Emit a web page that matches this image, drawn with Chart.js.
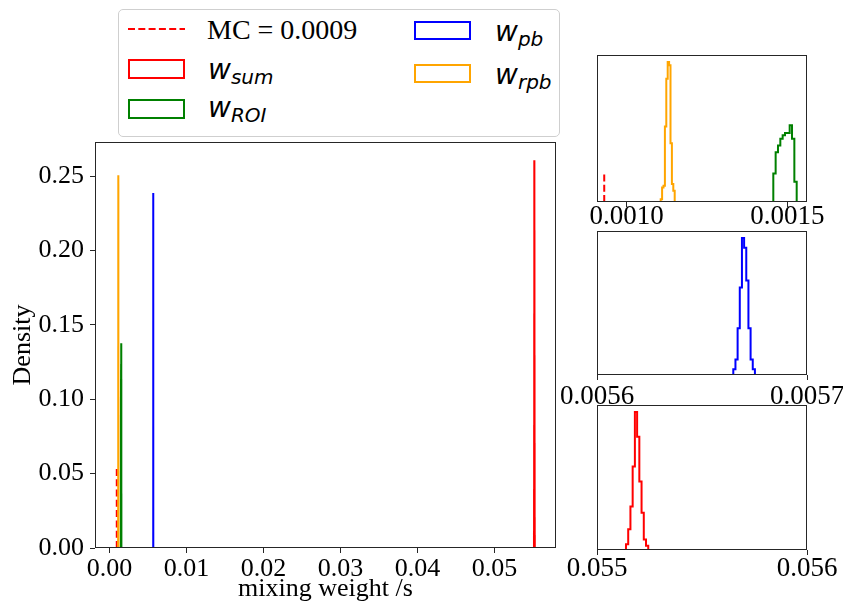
<!DOCTYPE html>
<html>
<head>
<meta charset="utf-8">
<title>mixing weight histograms</title>
<script src="https://cdn.jsdelivr.net/npm/chart.js@4.4.1/dist/chart.umd.min.js"></script>
<style>
  html, body { margin: 0; padding: 0; background: #fff; }
  #page { position: relative; width: 843px; height: 609px; overflow: hidden; }
  canvas { position: absolute; }
  #mainChart { left: 0; top: 130px; }
  #insetTop { left: 560px; top: 40px; }
  #insetMid { left: 560px; top: 216px; }
  #insetLow { left: 560px; top: 390px; }
  #legend { position: absolute; left: 118px; top: 9px; width: 442px; height: 128px; box-sizing: border-box;
            border: 1px solid #cfcfcf; border-radius: 5px; background: #fff; }
  .patch { position: absolute; width: 57px; height: 20px; box-sizing: border-box; border: 2px solid; }
  .lbl { position: absolute; font-size: 28px; line-height: 28px; white-space: nowrap; color: #000; }
  .serif { font-family: 'Liberation Serif', 'Times New Roman', serif; }
  .math { font-family: 'DejaVu Sans', sans-serif; font-style: italic; }
  .math sub { font-size: 20px; vertical-align: -5px; line-height: 0; }
</style>
</head>
<body>
<div id="page">
  <canvas id="mainChart" width="580" height="479"></canvas>
  <canvas id="insetTop" width="283" height="200"></canvas>
  <canvas id="insetMid" width="283" height="200"></canvas>
  <canvas id="insetLow" width="283" height="200"></canvas>
  <div id="legend">
    <svg style="position:absolute; left:9px; top:16px" width="57" height="6">
      <line x1="0" y1="3" x2="57" y2="3" stroke="#ff0000" stroke-width="2" stroke-dasharray="7 3.3"></line>
    </svg>
    <div class="lbl serif" style="left:88px; top:6px">MC = 0.0009</div>
    <div class="patch" style="left:9px; top:49px; border-color:#ff0000"></div>
    <div class="lbl math" style="left:89px; top:46px">w<sub>sum</sub></div>
    <div class="patch" style="left:9px; top:89px; border-color:#008000"></div>
    <div class="lbl math" style="left:89px; top:84px">w<sub>ROI</sub></div>
    <div class="patch" style="left:295px; top:11px; height:19px; border-color:#0000ff"></div>
    <div class="lbl math" style="left:376px; top:8px">w<sub>pb</sub></div>
    <div class="patch" style="left:295px; top:54px; height:19px; border-color:#ffa500"></div>
    <div class="lbl math" style="left:376px; top:51px">w<sub>rpb</sub></div>
  </div>
</div>
<script>
// values
const mcValue = 0.00093;
const mcLineFraction = 0.2;   // dashed marker reaches 20% of each axis height

const sumStart = 0.055138;
const sumBinWidth = 0.0000106;
const sumDensity = [0.011, 0.039, 0.082, 0.157, 0.260, 0.213, 0.129, 0.070, 0.020, 0.008];

const roiStart = 0.0014564;
const roiBinWidth = 0.00000728;
const roiDensity = [0.051, 0.089, 0.101, 0.113, 0.119, 0.123, 0.123, 0.137, 0.113, 0.036];

const pbStart = 0.0056649;
const pbBinWidth = 0.00000103;
const pbDensity = [0.010, 0.027, 0.081, 0.152, 0.238, 0.221, 0.164, 0.081, 0.027, 0.010];

const rpbStart = 0.0011058;
const rpbBinWidth = 0.00000436;
const rpbDensity = [0.005, 0.026, 0.029, 0.135, 0.220, 0.250, 0.244, 0.105, 0.032, 0.020];

const mainXRange = [-0.0019, 0.058];
const mainYMax = 0.273;
const mainXTicks = [0, 0.01, 0.02, 0.03, 0.04, 0.05];
const mainXTickLabels = ['0.00', '0.01', '0.02', '0.03', '0.04', '0.05'];
const mainYTicks = [0, 0.05, 0.10, 0.15, 0.20, 0.25];
const mainYTickLabels = ['0.00', '0.05', '0.10', '0.15', '0.20', '0.25'];

const topXRange = [0.0009075, 0.0015613];
const topYMax = 0.2625;
const topXTicks = [0.0010, 0.0015];
const topXTickLabels = ['0.0010', '0.0015'];

const midXRange = [0.0056, 0.0057];
const midYMax = 0.25;
const midXTicks = [0.0056, 0.0057];
const midXTickLabels = ['0.0056', '0.0057'];

const lowXRange = [0.055, 0.056];
const lowYMax = 0.273;
const lowXTicks = [0.055, 0.056];
const lowXTickLabels = ['0.055', '0.056'];

const serif = "'Liberation Serif', 'Times New Roman', serif";
const colors = { mc: '#ff0000', sum: '#ff0000', roi: '#008000', pb: '#0000ff', rpb: '#ffa500' };
const spineColor = '#262626';

// step outline like histtype='step'
function histPoints(start, width, density) {
    const pts = [{ x: start, y: 0 }];
    density.forEach((d, i) => pts.push({ x: start + (i + 1) * width, y: d }));
    pts.push({ x: start + density.length * width, y: 0 });
    return pts;
}

function histDataset(points, color) {
    return { data: points, borderColor: color, borderWidth: 2, stepped: 'after',
             pointRadius: 0, fill: false, tension: 0 };
}

function mcDataset(yMax) {
    return { data: [{ x: mcValue, y: 0 }, { x: mcValue, y: mcLineFraction * yMax }],
             borderColor: colors.mc, borderWidth: 2, borderDash: [7, 3.3],
             pointRadius: 0, fill: false };
}

const boxFrame = {
    id: 'boxFrame',
    afterDatasetsDraw(chart) {
        const { ctx, chartArea: a } = chart;
        ctx.save();
        ctx.strokeStyle = spineColor;
        ctx.lineWidth = 1;
        ctx.strokeRect(Math.round(a.left) + 0.5, Math.round(a.top) + 0.5,
                       Math.round(a.right - a.left) - 1, Math.round(a.bottom - a.top) - 1);
        ctx.restore();
    }
};

function xScale(range, ticks, labels, o) {
    return {
        type: 'linear', min: range[0], max: range[1],
        afterBuildTicks: s => { s.ticks = ticks.map(v => ({ value: v })); },
        afterFit: s => { s.height = o.height; s.paddingLeft = 0; s.paddingRight = 0; },
        ticks: { callback: (v, i) => labels[i], autoSkip: false, maxRotation: 0, minRotation: 0,
                 padding: o.pad, color: '#000', font: { family: serif, size: o.size, lineHeight: o.lh } },
        grid: { drawOnChartArea: false, drawTicks: true, tickLength: 5, tickColor: spineColor, tickWidth: 1 },
        border: { display: false },
        title: o.title ? { display: true, text: o.title, color: '#000',
                           font: { family: serif, size: 26, lineHeight: 1.2 }, padding: { top: 0, bottom: 4 } }
                       : { display: false }
    };
}

const common = {
    responsive: false,
    animation: false,
    devicePixelRatio: 1,
    events: [],
    plugins: { legend: { display: false }, tooltip: { enabled: false } }
};

// later histograms sit on top, so list them back to front
function seriesFor(yMax) {
    return [
        histDataset(histPoints(rpbStart, rpbBinWidth, rpbDensity), colors.rpb),
        histDataset(histPoints(pbStart, pbBinWidth, pbDensity), colors.pb),
        histDataset(histPoints(roiStart, roiBinWidth, roiDensity), colors.roi),
        histDataset(histPoints(sumStart, sumBinWidth, sumDensity), colors.sum),
        mcDataset(yMax)
    ];
}

new Chart(document.getElementById('mainChart'), {
    type: 'line',
    data: { datasets: seriesFor(mainYMax) },
    options: {
        ...common,
        layout: { padding: { left: 0, right: 24, top: 12, bottom: 0 } },
        scales: {
            x: xScale(mainXRange, mainXTicks, mainXTickLabels,
                      { height: 61, pad: 1, size: 26, lh: 1.2, title: 'mixing weight /s' }),
            y: {
                type: 'linear', min: 0, max: mainYMax,
                afterBuildTicks: s => { s.ticks = mainYTicks.map(v => ({ value: v })); },
                afterFit: s => { s.width = 95; s.paddingTop = 0; s.paddingBottom = 0; },
                ticks: { callback: (v, i) => mainYTickLabels[i], padding: 6, color: '#000',
                         font: { family: serif, size: 26 } },
                grid: { drawOnChartArea: false, drawTicks: true, tickLength: 5, tickColor: spineColor, tickWidth: 1 },
                border: { display: false },
                title: { display: true, text: 'Density', color: '#000',
                         font: { family: serif, size: 26, lineHeight: 1.2 }, padding: { top: 7.6, bottom: 0 } }
            }
        }
    },
    plugins: [boxFrame]
});

function inset(id, range, yMax, ticks, labels, axisHeight, pad) {
    new Chart(document.getElementById(id), {
        type: 'line',
        data: { datasets: seriesFor(yMax) },
        options: {
            ...common,
            layout: { padding: { left: 37, right: 36, top: 15, bottom: 0 } },
            scales: {
                x: xScale(range, ticks, labels, { height: axisHeight, pad: pad, size: 27, lh: 1 }),
                y: { type: 'linear', display: false, min: 0, max: yMax }
            }
        },
        plugins: [boxFrame]
    });
}

inset('insetTop', topXRange, topYMax, topXTicks, topXTickLabels, 38, -3.5);
inset('insetMid', midXRange, midYMax, midXTicks, midXTickLabels, 41, 3.2);
inset('insetLow', lowXRange, lowYMax, lowXTicks, lowXTickLabels, 40, 0.3);
</script>
</body>
</html>
